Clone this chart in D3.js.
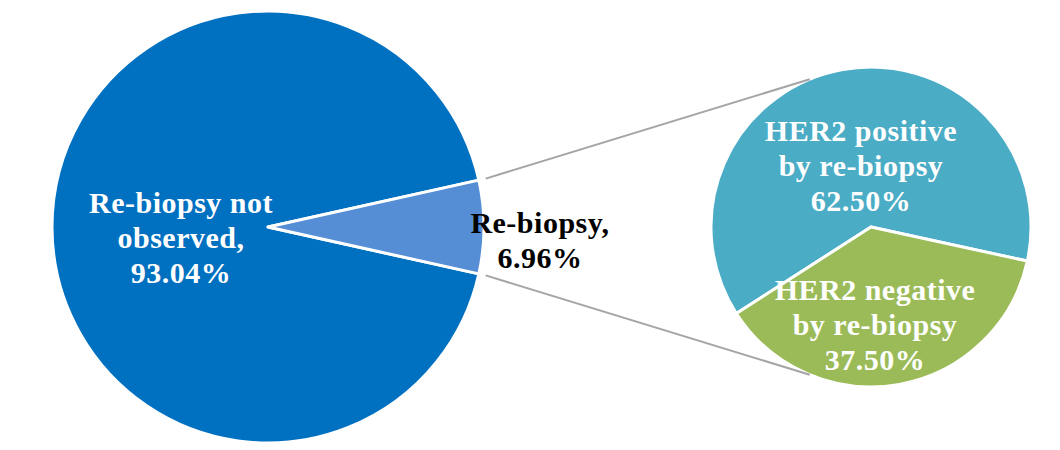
<!DOCTYPE html>
<html>
<head>
<meta charset="utf-8">
<script src="https://cdn.jsdelivr.net/npm/d3@7"></script>
<style>
  body { margin: 0; background: #fff; }
  svg text { font-family: "Liberation Serif", "Times New Roman", serif; font-weight: bold; letter-spacing: 0.5px; }
</style>
</head>
<body>
<svg id="chart" width="1060" height="450"></svg>
<script>
// data
const mainCategories = ["Re-biopsy not observed", "Re-biopsy"];
const mainValues = [93.04, 6.96];
const mainLabels = [["Re-biopsy not", "observed,", "93.04%"], ["Re-biopsy,", "6.96%"]];

const subCategories = ["HER2 positive by re-biopsy", "HER2 negative by re-biopsy"];
const subValues = [62.5, 37.5];
const subLabels = [["HER2 positive", "by re-biopsy", "62.50%"], ["HER2 negative", "by re-biopsy", "37.50%"]];

// layout
const main = { cx: 268, cy: 227, r: 216 };
const sub = { cx: 871, cy: 227, r: 160 };
const mainColors = ["#0070C0", "#558ED5"];
const subColors = ["#4BACC6", "#9BBB59"];
const lineH = 35;
const fontSize = 30;

//label anchors relative to each pie centre (x, first baseline)
const mainLabelPos = [[-87, -14], [272, 6]];
const mainLabelFill = ["#fff", "#000"];
const subLabelPos = [[-10, -86], [4, 73]];

const svg = d3.select("#chart");

// main pie: the split-out slice is centred on 3 o'clock
const total = d3.sum(mainValues);
const sliceSpan = (mainValues[1] / total) * 2 * Math.PI;
const mainPie = d3.pie().sort(null)
  .startAngle(Math.PI / 2 - sliceSpan / 2)
  .endAngle(Math.PI / 2 - sliceSpan / 2 + 2 * Math.PI);
// order: split slice first so it starts at the computed angle
const mainArcs = mainPie([mainValues[1], mainValues[0]]);
const mainData = [
  { i: 0, arc: mainArcs[1] },
  { i: 1, arc: mainArcs[0] }
];

const mainArc = d3.arc().innerRadius(0).outerRadius(main.r);

const gMain = svg.append("g").attr("transform", `translate(${main.cx},${main.cy})`);
gMain.selectAll("path")
  .data(mainData)
  .join("path")
  .attr("d", d => mainArc(d.arc))
  .attr("fill", d => mainColors[d.i])
  .attr("stroke", "#fff")
  .attr("stroke-width", 3)
  .attr("stroke-linejoin", "round");

// second pie, rotated so the smaller slice sits at the bottom
const subStart = (237.3 * Math.PI) / 180;
const subPie = d3.pie().sort(null).startAngle(subStart).endAngle(subStart + 2 * Math.PI);
const subArcs = subPie(subValues);
const subArc = d3.arc().innerRadius(0).outerRadius(sub.r);

const gSub = svg.append("g").attr("transform", `translate(${sub.cx},${sub.cy})`);
gSub.selectAll("path")
  .data(subArcs)
  .join("path")
  .attr("d", subArc)
  .attr("fill", (d, i) => subColors[i])
  .attr("stroke", "#fff")
  .attr("stroke-width", 3)
  .attr("stroke-linejoin", "round");

// connector lines from split slice edges to the second pie
const polar = (c, r, a) => [c.cx + r * Math.sin(a), c.cy - r * Math.cos(a)];
const split = mainArcs[0];
const tangA = (22.5 * Math.PI) / 180;
const connectors = [
  [polar(main, main.r + 7, split.startAngle), polar(sub, sub.r, -tangA)],
  [polar(main, main.r + 7, split.endAngle), polar(sub, sub.r, Math.PI + tangA)]
];
svg.selectAll("line.conn")
  .data(connectors)
  .join("line")
  .attr("class", "conn")
  .attr("x1", d => d[0][0]).attr("y1", d => d[0][1])
  .attr("x2", d => d[1][0]).attr("y2", d => d[1][1])
  .attr("stroke", "#A5A5A5")
  .attr("stroke-width", 2);

// labels
function addLabel(g, lines, pos, fill) {
  const t = g.append("text")
    .attr("text-anchor", "middle")
    .attr("font-size", fontSize)
    .attr("fill", fill);
  lines.forEach((s, k) => {
    t.append("tspan").attr("x", pos[0]).attr("y", pos[1] + k * lineH).text(s);
  });
}

mainLabels.forEach((lines, i) => addLabel(gMain, lines, mainLabelPos[i], mainLabelFill[i]));
subLabels.forEach((lines, i) => addLabel(gSub, lines, subLabelPos[i], "#fff"));
</script>
</body>
</html>
